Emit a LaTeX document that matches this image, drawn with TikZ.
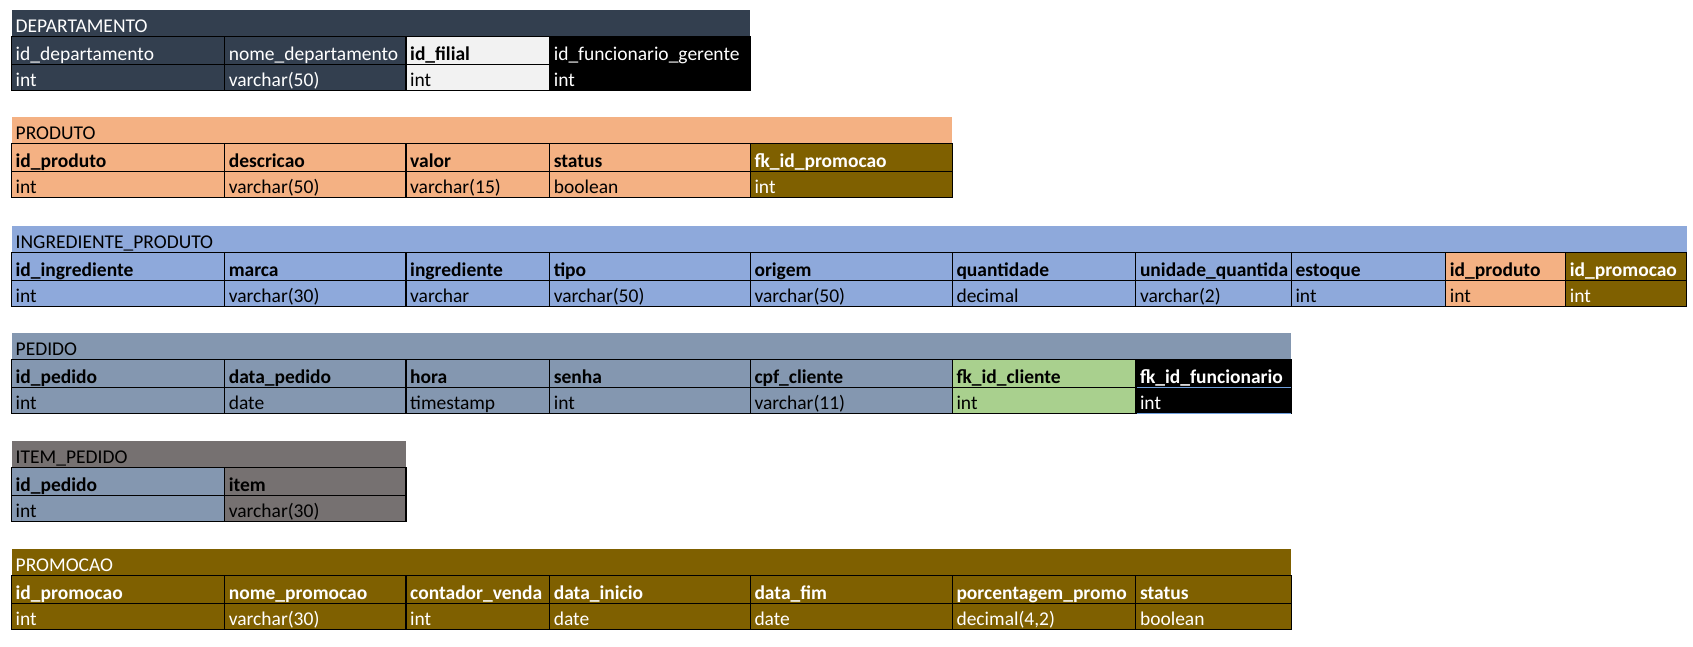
\documentclass[tikz,border=0pt]{standalone}
\usepackage{fontspec}
\setmainfont{Carlito}
\definecolor{dept}{HTML}{333F4F}
\definecolor{lgray}{HTML}{F2F2F2}
\definecolor{orng}{HTML}{F4B183}
\definecolor{gold}{HTML}{7F6000}
\definecolor{lblue}{HTML}{8EA9DB}
\definecolor{slate}{HTML}{8497B0}
\definecolor{lgreen}{HTML}{A9D08E}
\definecolor{dgray}{HTML}{767171}
\definecolor{selblue}{HTML}{6F9FDD}
% #1 name, #2 x1, #3 x2, #4 ytop, #5 ybot, #6 fill, #7 text colour, #8 text
\newcommand\tcell[8]{%
  \path[fill=#6,draw=black,line width=1.2pt] (#2,#4) rectangle (#3,#5);
  \node[celltext,text=#7] (#1) at (#2,#5) {#8};}
% #1 name, #2 x1, #3 x2, #4 ytop, #5 fill, #6 text colour, #7 text
\newcommand\ttitle[7]{%
  \path[fill=#5] (#2,#4) rectangle (#3,#4+27);
  \node[celltext,text=#6] (#1) at (#2,#4+27) {#7};}
\begin{document}
\begin{tikzpicture}[x=1pt,y=-1pt,
  celltext/.style={anchor=base west,inner sep=0pt,xshift=4pt,yshift=4pt,
    font=\fontsize{19.5}{22}\selectfont}]
\useasboundingbox (0,0) rectangle (1693,646);
\def\cA{11.5}\def\cB{224.6}\def\cC{406}\def\cD{549.6}\def\cE{750.3}
\def\cF{952.3}\def\cG{1135.8}\def\cH{1291.3}\def\cI{1445.7}\def\cJ{1565.6}\def\cK{1686.5}
% ---------- DEPARTAMENTO ----------
\def\T{9.5}
\ttitle{dt}{\cA}{\cE}{\T}{dept}{white}{DEPARTAMENTO}
\tcell{dh1}{\cA}{\cB}{\T+27}{\T+55}{dept}{white}{id\_departamento}
\tcell{dh2}{\cB}{\cC}{\T+27}{\T+55}{dept}{white}{nome\_departamento}
\tcell{dh3}{\cC}{\cD}{\T+27}{\T+55}{lgray}{black}{\bfseries id\_filial}
\tcell{dh4}{\cD}{\cE}{\T+27}{\T+55}{black}{white}{id\_funcionario\_gerente}
\tcell{dd1}{\cA}{\cB}{\T+55}{\T+81}{dept}{white}{int}
\tcell{dd2}{\cB}{\cC}{\T+55}{\T+81}{dept}{white}{varchar(50)}
\tcell{dd3}{\cC}{\cD}{\T+55}{\T+81}{lgray}{black}{int}
\tcell{dd4}{\cD}{\cE}{\T+55}{\T+81}{black}{white}{int}
% ---------- PRODUTO ----------
\def\T{116.7}
\ttitle{pt}{\cA}{\cF}{\T}{orng}{black}{PRODUTO}
\tcell{ph1}{\cA}{\cB}{\T+27}{\T+55}{orng}{black}{\bfseries id\_produto}
\tcell{ph2}{\cB}{\cC}{\T+27}{\T+55}{orng}{black}{\bfseries descricao}
\tcell{ph3}{\cC}{\cD}{\T+27}{\T+55}{orng}{black}{\bfseries valor}
\tcell{ph4}{\cD}{\cE}{\T+27}{\T+55}{orng}{black}{\bfseries status}
\tcell{ph5}{\cE}{\cF}{\T+27}{\T+55}{gold}{white}{\bfseries fk\_id\_promocao}
\tcell{pd1}{\cA}{\cB}{\T+55}{\T+81}{orng}{black}{int}
\tcell{pd2}{\cB}{\cC}{\T+55}{\T+81}{orng}{black}{varchar(50)}
\tcell{pd3}{\cC}{\cD}{\T+55}{\T+81}{orng}{black}{varchar(15)}
\tcell{pd4}{\cD}{\cE}{\T+55}{\T+81}{orng}{black}{boolean}
\tcell{pd5}{\cE}{\cF}{\T+55}{\T+81}{gold}{white}{int}
% ---------- INGREDIENTE_PRODUTO ----------
\def\T{225.5}
\ttitle{it}{\cA}{\cK}{\T}{lblue}{black}{INGREDIENTE\_PRODUTO}
\tcell{ih1}{\cA}{\cB}{\T+27}{\T+55}{lblue}{black}{\bfseries id\_ingrediente}
\tcell{ih2}{\cB}{\cC}{\T+27}{\T+55}{lblue}{black}{\bfseries marca}
\tcell{ih3}{\cC}{\cD}{\T+27}{\T+55}{lblue}{black}{\bfseries ingrediente}
\tcell{ih4}{\cD}{\cE}{\T+27}{\T+55}{lblue}{black}{\bfseries tipo}
\tcell{ih5}{\cE}{\cF}{\T+27}{\T+55}{lblue}{black}{\bfseries origem}
\tcell{ih6}{\cF}{\cG}{\T+27}{\T+55}{lblue}{black}{\bfseries quantidade}
\tcell{ih7}{\cG}{\cH}{\T+27}{\T+55}{lblue}{black}{\bfseries unidade\_quantida}
\tcell{ih8}{\cH}{\cI}{\T+27}{\T+55}{lblue}{black}{\bfseries estoque}
\tcell{ih9}{\cI}{\cJ}{\T+27}{\T+55}{orng}{black}{\bfseries id\_produto}
\tcell{ih10}{\cJ}{\cK}{\T+27}{\T+55}{gold}{white}{\bfseries id\_promocao}
\tcell{id1}{\cA}{\cB}{\T+55}{\T+81}{lblue}{black}{int}
\tcell{id2}{\cB}{\cC}{\T+55}{\T+81}{lblue}{black}{varchar(30)}
\tcell{id3}{\cC}{\cD}{\T+55}{\T+81}{lblue}{black}{varchar}
\tcell{id4}{\cD}{\cE}{\T+55}{\T+81}{lblue}{black}{varchar(50)}
\tcell{id5}{\cE}{\cF}{\T+55}{\T+81}{lblue}{black}{varchar(50)}
\tcell{id6}{\cF}{\cG}{\T+55}{\T+81}{lblue}{black}{decimal}
\tcell{id7}{\cG}{\cH}{\T+55}{\T+81}{lblue}{black}{varchar(2)}
\tcell{id8}{\cH}{\cI}{\T+55}{\T+81}{lblue}{black}{int}
\tcell{id9}{\cI}{\cJ}{\T+55}{\T+81}{orng}{black}{int}
\tcell{id10}{\cJ}{\cK}{\T+55}{\T+81}{gold}{white}{int}
% ---------- PEDIDO ----------
\def\T{332.5}
\ttitle{et}{\cA}{\cH}{\T}{slate}{black}{PEDIDO}
\tcell{eh1}{\cA}{\cB}{\T+27}{\T+55}{slate}{black}{\bfseries id\_pedido}
\tcell{eh2}{\cB}{\cC}{\T+27}{\T+55}{slate}{black}{\bfseries data\_pedido}
\tcell{eh3}{\cC}{\cD}{\T+27}{\T+55}{slate}{black}{\bfseries hora}
\tcell{eh4}{\cD}{\cE}{\T+27}{\T+55}{slate}{black}{\bfseries senha}
\tcell{eh5}{\cE}{\cF}{\T+27}{\T+55}{slate}{black}{\bfseries cpf\_cliente}
\tcell{eh6}{\cF}{\cG}{\T+27}{\T+55}{lgreen}{black}{\bfseries fk\_id\_cliente}
\tcell{eh7}{\cG}{\cH}{\T+27}{\T+55}{black}{white}{\bfseries fk\_id\_funcionario}
\tcell{ed1}{\cA}{\cB}{\T+55}{\T+81}{slate}{black}{int}
\tcell{ed2}{\cB}{\cC}{\T+55}{\T+81}{slate}{black}{date}
\tcell{ed3}{\cC}{\cD}{\T+55}{\T+81}{slate}{black}{timestamp}
\tcell{ed4}{\cD}{\cE}{\T+55}{\T+81}{slate}{black}{int}
\tcell{ed5}{\cE}{\cF}{\T+55}{\T+81}{slate}{black}{varchar(11)}
\tcell{ed6}{\cF}{\cG}{\T+55}{\T+81}{lgreen}{black}{int}
\tcell{ed7}{\cG}{\cH}{\T+55}{\T+81}{black}{white}{int}
\draw[selblue,line width=1.2pt] (\cG+1,\T+55) -- (\cH,\T+55);
\draw[selblue,line width=1.2pt] (\cG+1,\T+81) -- (\cH,\T+81);
% ---------- ITEM_PEDIDO ----------
\def\T{440.5}
\ttitle{qt}{\cA}{\cC}{\T}{dgray}{black}{ITEM\_PEDIDO}
\tcell{qh1}{\cA}{\cB}{\T+27}{\T+55}{slate}{black}{\bfseries id\_pedido}
\tcell{qh2}{\cB}{\cC}{\T+27}{\T+55}{dgray}{black}{\bfseries item}
\tcell{qd1}{\cA}{\cB}{\T+55}{\T+81}{slate}{black}{int}
\tcell{qd2}{\cB}{\cC}{\T+55}{\T+81}{dgray}{black}{varchar(30)}
% ---------- PROMOCAO ----------
\def\T{548.5}
\ttitle{mt}{\cA}{\cH}{\T}{gold}{white}{PROMOCAO}
\tcell{mh1}{\cA}{\cB}{\T+27}{\T+55}{gold}{white}{\bfseries id\_promocao}
\tcell{mh2}{\cB}{\cC}{\T+27}{\T+55}{gold}{white}{\bfseries nome\_promocao}
\tcell{mh3}{\cC}{\cD}{\T+27}{\T+55}{gold}{white}{\bfseries contador\_venda}
\tcell{mh4}{\cD}{\cE}{\T+27}{\T+55}{gold}{white}{\bfseries data\_inicio}
\tcell{mh5}{\cE}{\cF}{\T+27}{\T+55}{gold}{white}{\bfseries data\_fim}
\tcell{mh6}{\cF}{\cG}{\T+27}{\T+55}{gold}{white}{\bfseries porcentagem\_promo}
\tcell{mh7}{\cG}{\cH}{\T+27}{\T+55}{gold}{white}{\bfseries status}
\tcell{md1}{\cA}{\cB}{\T+55}{\T+81}{gold}{white}{int}
\tcell{md2}{\cB}{\cC}{\T+55}{\T+81}{gold}{white}{varchar(30)}
\tcell{md3}{\cC}{\cD}{\T+55}{\T+81}{gold}{white}{int}
\tcell{md4}{\cD}{\cE}{\T+55}{\T+81}{gold}{white}{date}
\tcell{md5}{\cE}{\cF}{\T+55}{\T+81}{gold}{white}{date}
\tcell{md6}{\cF}{\cG}{\T+55}{\T+81}{gold}{white}{decimal(4,2)}
\tcell{md7}{\cG}{\cH}{\T+55}{\T+81}{gold}{white}{boolean}
\end{tikzpicture}
\end{document}
